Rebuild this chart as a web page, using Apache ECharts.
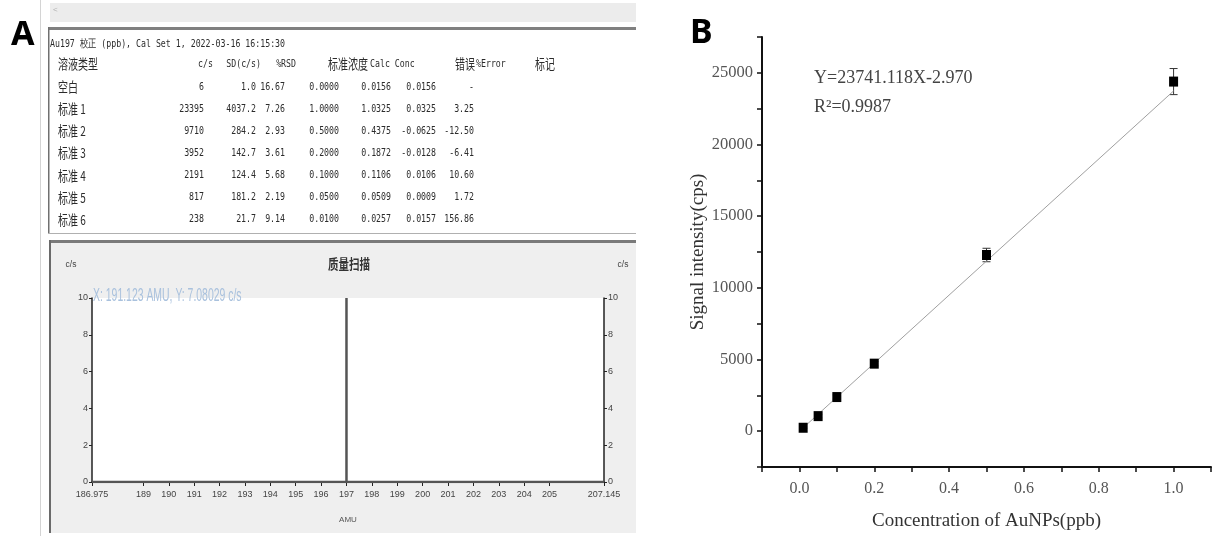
<!DOCTYPE html>
<html>
<head>
<meta charset="utf-8">
<script src="https://cdn.jsdelivr.net/npm/echarts@6/dist/echarts.min.js"></script>
<style>
  html, body { margin: 0; padding: 0; background: #fff; }
  #main { width: 1214px; height: 536px; }
</style>
</head>
<body>
<div id="main"></div>
<script>
// ---- panel A: calibration table ----
const tableTitle = 'Au197 校正 (ppb), Cal Set 1, 2022-03-16 16:15:30';
const tableHeaders = ['溶液类型', 'c/s', 'SD(c/s)', '%RSD', '标准浓度', 'Calc Conc', '错误', '%Error', '标记'];
const sampleNames = ['空白', '标准 1', '标准 2', '标准 3', '标准 4', '标准 5', '标准 6'];
const countsPerSec = ['6', '23395', '9710', '3952', '2191', '817', '238'];
const sdCounts = ['1.0', '4037.2', '284.2', '142.7', '124.4', '181.2', '21.7'];
const rsdPct = ['16.67', '7.26', '2.93', '3.61', '5.68', '2.19', '9.14'];
const stdConc = ['0.0000', '1.0000', '0.5000', '0.2000', '0.1000', '0.0500', '0.0100'];
const calcConc = ['0.0156', '1.0325', '0.4375', '0.1872', '0.1106', '0.0509', '0.0257'];
const concError = ['0.0156', '0.0325', '-0.0625', '-0.0128', '0.0106', '0.0009', '0.0157'];
const pctError = ['-', '3.25', '-12.50', '-6.41', '10.60', '1.72', '156.86'];

// ---- panel A: mass scan ----
const scanTitle = '质量扫描';
const scanTicks = [186.975, 189, 190, 191, 192, 193, 194, 195, 196, 197, 198, 199, 200, 201, 202, 203, 204, 205, 207.145];
const scanAmu = [186.975, 197, 197, 197, 207.145];
const scanCps = [0, 0, 10, 0, 0];
const cursorText = 'X: 191.123 AMU, Y: 7.08029 c/s';

// ---- panel B: calibration curve ----
const concPpb = [0.01, 0.05, 0.1, 0.2, 0.5, 1.0];
const signalCps = [238, 1050, 2380, 4710, 12290, 24390];
const signalSd = [50, 120, 150, 150, 470, 910];
const fitX = [0.01, 1.0];
const fitY = [234, 23738];
const fitEquation = 'Y=23741.118X-2.970';
const fitR2 = 'R²=0.9987';

const MONO = 'DejaVu Sans Mono';
const CJK = 'Noto Sans CJK SC';
const SERIF = '"Liberation Serif", "Times New Roman", serif';
const INK = '#2b2b2b';

// small helper for graphic text, optional horizontal squeeze
function label(x, y, text, st, scaleX) {
  const style = Object.assign({
    text: text, fill: INK, fontSize: 11, fontFamily: MONO,
    align: 'left', verticalAlign: 'middle', textAlign: 'left', textVerticalAlign: 'middle'
  }, st || {});
  if (style.align) style.textAlign = style.align;
  return { type: 'text', x: x, y: y, z: 10, silent: true, scaleX: scaleX || 1, style: style };
}
function rect(x, y, w, h, fill, z) {
  return { type: 'rect', z: z, silent: true, shape: { x: x, y: y, width: w, height: h }, style: { fill: fill } };
}

const graphics = [];
// frames of the software screenshot
graphics.push(rect(40, 0, 1, 536, '#d4d4d4', -10));
graphics.push(rect(50, 3, 586, 19, '#ececec', -10));
graphics.push(label(53, 10, '<', { fill: '#b0b0b0', fontSize: 8, fontFamily: 'Liberation Sans' }));
graphics.push(rect(48, 27, 588, 3, '#808080', -9));
graphics.push(rect(48, 27, 1.5, 207, '#707070', -9));
graphics.push(rect(48, 233, 588, 1, '#b0b0b0', -9));
graphics.push(rect(49, 241, 587, 292, '#efefef', -10));
graphics.push(rect(49, 240, 587, 3, '#7a7a7a', -9));
graphics.push(rect(49, 240, 2, 293, '#6a6a6a', -9));
graphics.push(rect(92, 298, 512, 185, '#ffffff', -8));

// table text
graphics.push(label(50, 44, tableTitle, { fontSize: 11 }, 0.75));
const headerX = [58, 213, 261, 296, 328, 370, 455, 476, 535];
const headerAlign = ['left', 'right', 'right', 'right', 'left', 'left', 'left', 'left', 'left'];
tableHeaders.forEach(function (h, i) {
  const cjk = /[\u4e00-\u9fff]/.test(h);
  graphics.push(label(headerX[i], 64, h, {
    align: headerAlign[i], fontSize: cjk ? 13.5 : 11, fontFamily: cjk ? CJK : MONO
  }, cjk ? 0.74 : 0.75));
});
const colRight = [204, 256, 285, 339, 391, 436, 474];
const columns = [countsPerSec, sdCounts, rsdPct, stdConc, calcConc, concError, pctError];
sampleNames.forEach(function (name, r) {
  const y = 87 + r * 22.1;
  graphics.push(label(58, y, name, { fontSize: 13.5, fontFamily: CJK }, 0.74));
  columns.forEach(function (col, c) {
    graphics.push(label(colRight[c], y, col[r], { align: 'right', fontSize: 11 }, 0.75));
  });
});

// mass scan annotations
graphics.push(label(349, 264, scanTitle, { align: 'center', fontSize: 14, fontFamily: CJK, fontWeight: 'bold', fill: '#333' }, 0.75));
graphics.push(label(71, 265, 'c/s', { align: 'center', fontSize: 8.5, fontFamily: 'Liberation Sans', fill: '#444' }));
graphics.push(label(623, 265, 'c/s', { align: 'center', fontSize: 8.5, fontFamily: 'Liberation Sans', fill: '#444' }));
graphics.push(label(93, 296, cursorText, { fontSize: 18, fontFamily: 'Liberation Sans', fill: '#a9c1dd' }, 0.58));

// panel letters
graphics.push(label(11, 35, 'A', { fontSize: 34, fontFamily: 'Noto Sans', fill: '#000', fontWeight: 'bold' }));
graphics.push(label(690, 33, 'B', { fontSize: 34, fontFamily: 'Noto Sans', fill: '#000', fontWeight: 'bold' }));

// fit equation
graphics.push(label(814, 78, fitEquation, { fontSize: 18, fontFamily: SERIF, fill: '#444' }));
graphics.push(label(814, 107, fitR2, { fontSize: 18, fontFamily: SERIF, fill: '#444' }));

const scanPoints = scanAmu.map(function (a, i) { return [a, scanCps[i]]; });
const calPoints = concPpb.map(function (c, i) { return [c, signalCps[i], signalSd[i]]; });
const fitPoints = fitX.map(function (x, i) { return [x, fitY[i]]; });

const smallLabel = { fontSize: 9, fontFamily: 'Liberation Sans', color: '#444' };

const option = {
  animation: false,
  backgroundColor: '#ffffff',
  graphic: { elements: graphics },
  grid: [
    { left: 92, top: 298, width: 512, height: 184 },
    { left: 762, top: 37, right: 0, bottom: 69 }
  ],
  xAxis: [
    {
      type: 'value', gridIndex: 0, min: 186.975, max: 207.145,
      name: 'AMU', nameLocation: 'middle', nameGap: 34,
      nameTextStyle: { fontSize: 8, fontFamily: 'Liberation Sans', color: '#555' },
      axisLine: { show: true, onZero: false, lineStyle: { color: '#222', width: 1.5 } },
      axisTick: { show: true, length: 4, customValues: scanTicks, lineStyle: { color: '#222' } },
      axisLabel: Object.assign({ customValues: scanTicks, margin: 8, formatter: function (v) { return String(v); } }, smallLabel),
      splitLine: { show: false }
    },
    {
      type: 'value', gridIndex: 1, min: -0.1, max: 1.1, interval: 0.1,
      name: 'Concentration of AuNPs(ppb)', nameLocation: 'middle', nameGap: 45,
      nameTextStyle: { fontSize: 19, fontFamily: SERIF, color: '#333' },
      axisLine: { show: true, onZero: false, lineStyle: { color: '#111', width: 2 } },
      axisTick: { show: true, length: 5, lineStyle: { color: '#111', width: 1.5 } },
      axisLabel: {
        margin: 14, fontSize: 16, fontFamily: SERIF, color: '#555',
        formatter: function (v) { const k = Math.round(v * 10); return (k >= 0 && k % 2 === 0) ? v.toFixed(1) : ''; }
      },
      splitLine: { show: false }
    }
  ],
  yAxis: [
    {
      type: 'value', gridIndex: 0, min: 0, max: 10, interval: 2, position: 'left',
      axisLine: { show: true, lineStyle: { color: '#222', width: 1.5 } },
      axisTick: { show: true, length: 3, lineStyle: { color: '#222' } },
      axisLabel: Object.assign({ margin: 4 }, smallLabel),
      splitLine: { show: false }
    },
    {
      type: 'value', gridIndex: 0, min: 0, max: 10, interval: 2, position: 'right',
      axisLine: { show: true, lineStyle: { color: '#222', width: 1.5 } },
      axisTick: { show: true, length: 3, lineStyle: { color: '#222' } },
      axisLabel: Object.assign({ margin: 4 }, smallLabel),
      splitLine: { show: false }
    },
    {
      type: 'value', gridIndex: 1, min: -2500, max: 27500, interval: 2500,
      name: 'Signal intensity(cps)', nameLocation: 'middle', nameGap: 52,
      nameTextStyle: { fontSize: 19, fontFamily: SERIF, color: '#333' },
      axisLine: { show: true, onZero: false, lineStyle: { color: '#111', width: 2 } },
      axisTick: { show: true, length: 5, lineStyle: { color: '#111', width: 1.5 } },
      axisLabel: {
        margin: 9, fontSize: 16.5, fontFamily: SERIF, color: '#555',
        formatter: function (v) { return (v >= 0 && v % 5000 === 0) ? String(v) : ''; }
      },
      splitLine: { show: false }
    }
  ],
  series: [
    {
      name: 'scan', type: 'line', xAxisIndex: 0, yAxisIndex: 0,
      data: scanPoints, symbol: 'none', lineStyle: { color: '#555', width: 2.5 }
    },
    {
      name: 'fit', type: 'line', xAxisIndex: 1, yAxisIndex: 2,
      data: fitPoints, symbol: 'none', lineStyle: { color: '#a0a0a0', width: 1 }
    },
    {
      name: 'error', type: 'custom', xAxisIndex: 1, yAxisIndex: 2, z: 3,
      data: calPoints,
      renderItem: function (params, api) {
        const x = api.value(0), y = api.value(1), sd = api.value(2);
        const top = api.coord([x, y + sd]);
        const bot = api.coord([x, y - sd]);
        const hw = 4;
        const ls = { stroke: '#333', lineWidth: 1 };
        return {
          type: 'group',
          children: [
            { type: 'line', shape: { x1: top[0], y1: top[1], x2: bot[0], y2: bot[1] }, style: ls },
            { type: 'line', shape: { x1: top[0] - hw, y1: top[1], x2: top[0] + hw, y2: top[1] }, style: ls },
            { type: 'line', shape: { x1: bot[0] - hw, y1: bot[1], x2: bot[0] + hw, y2: bot[1] }, style: ls }
          ]
        };
      },
      encode: { x: 0, y: 1 }
    },
    {
      name: 'signal', type: 'scatter', xAxisIndex: 1, yAxisIndex: 2, z: 4,
      data: calPoints, symbol: 'rect', symbolSize: [9, 10],
      itemStyle: { color: '#000', opacity: 1 }
    }
  ]
};

const chart = echarts.init(document.getElementById('main'), null, { renderer: 'canvas' });
chart.setOption(option);
</script>
</body>
</html>
